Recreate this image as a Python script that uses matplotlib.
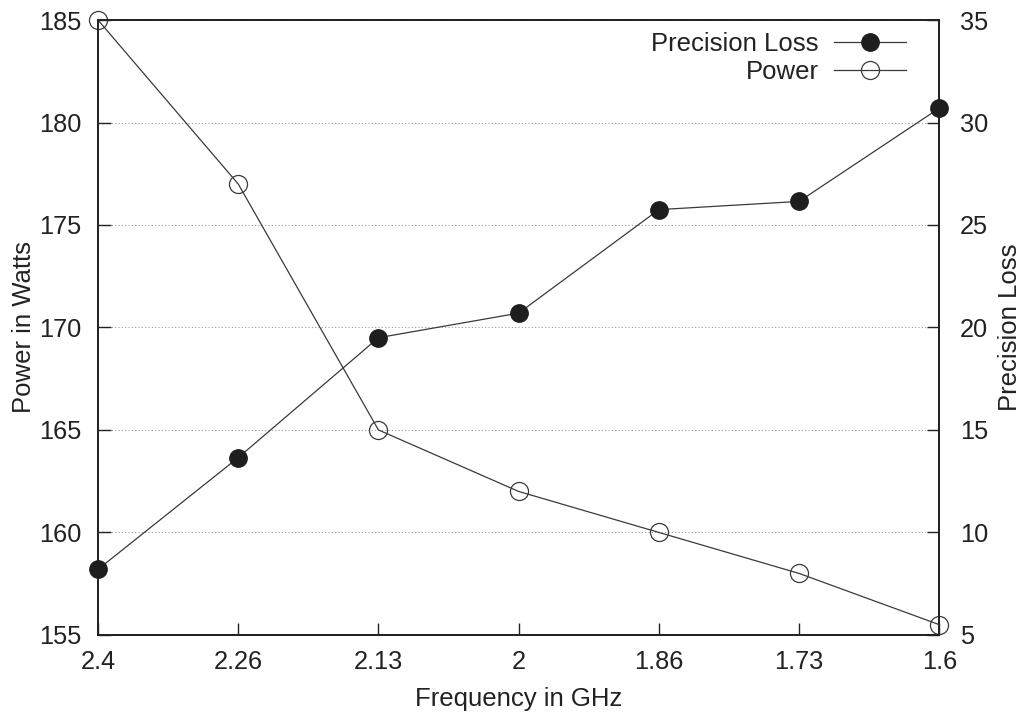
import matplotlib
matplotlib.use("Agg")
import matplotlib.pyplot as plt

plt.rcParams['font.family'] = ['Liberation Sans', 'DejaVu Sans']

# Data
frequencies = ["2.4", "2.26", "2.13", "2", "1.86", "1.73", "1.6"]
power_watts = [185, 177, 165, 162, 160, 158, 155.5]
precision_loss = [8.2, 13.65, 19.5, 20.7, 25.75, 26.15, 30.7]

power_ticks = [155, 160, 165, 170, 175, 180, 185]
loss_ticks = [5, 10, 15, 20, 25, 30, 35]

line_color = "#3a3a3a"
text_color = "#222222"
fig = plt.figure(figsize=(10.21, 7.15), dpi=100)
ax = fig.add_axes([0.096, 0.112, 0.824, 0.860])
ax2 = ax.twinx()

x = list(range(len(frequencies)))

ax.set_xlim(0, len(frequencies) - 1)
ax.set_ylim(155, 185)
ax2.set_ylim(5, 35)

ax.set_yticks(power_ticks)
ax2.set_yticks(loss_ticks)
ax.set_xticks(x)
ax.set_xticklabels(frequencies)

# dotted horizontal grid
ax.yaxis.grid(True, linestyle=(0, (1, 2)), color="#9a9a9a", linewidth=0.8)
ax.set_axisbelow(True)

# series
l_loss, = ax2.plot(x, precision_loss, color=line_color, linewidth=0.9,
                   marker="o", markersize=12.5, markerfacecolor="#1e1e1e",
                   markeredgecolor="#1e1e1e", label="Precision Loss",
                   clip_on=False, zorder=3)
l_power, = ax.plot(x, power_watts, color=line_color, linewidth=0.9,
                   marker="o", markersize=13, markerfacecolor="none",
                   markeredgecolor=line_color, markeredgewidth=0.9,
                   label="Power", clip_on=False, zorder=3)

tick_kw = dict(direction="in", length=9, width=1.0, labelsize=18.3,
               colors=text_color)
ax.tick_params(axis="y", left=True, right=False, pad=12, **tick_kw)
ax.tick_params(axis="x", bottom=True, top=False, pad=11, **tick_kw)
ax2.tick_params(axis="y", right=True, left=False, pad=15, **tick_kw)

for a in (ax, ax2):
    for s in a.spines.values():
        s.set_linewidth(1.3)
        s.set_color(text_color)

ax.set_xlabel("Frequency in GHz", fontsize=18.5, color=text_color, labelpad=9)
ax.set_ylabel("Power in Watts", fontsize=18.5, color=text_color, labelpad=2)
ax2.set_ylabel("Precision Loss", fontsize=18.5, color=text_color, labelpad=7)

leg = ax2.legend(handles=[l_loss, l_power], loc="upper right", frameon=False,
                 markerfirst=False, fontsize=18.5, handlelength=2.8,
                 handletextpad=0.6, labelspacing=0.15,
                 bbox_to_anchor=(0.975, 1.0), borderaxespad=0.08)
# right-justify each entry so the samples line up gnuplot-style
for col in leg._legend_handle_box.get_children():
    col.align = "right"
for t in leg.get_texts():
    t.set_color(text_color)

fig.savefig("out.png", dpi=100)
